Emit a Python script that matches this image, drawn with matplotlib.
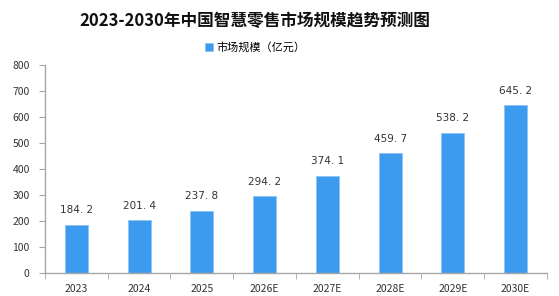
import matplotlib
matplotlib.use('Agg')
import matplotlib.pyplot as plt

plt.rcParams['font.family'] = ['Noto Sans CJK SC', 'DejaVu Sans']

years = ['2023', '2024', '2025', '2026E', '2027E', '2028E', '2029E', '2030E']
market_size = [184.2, 201.4, 237.8, 294.2, 374.1, 459.7, 538.2, 645.2]
yticks = [0, 100, 200, 300, 400, 500, 600, 700, 800]

title = '2023-2030年中国智慧零售市场规模趋势预测图'
legend_label = '市场规模（亿元）'

bar_color = '#3d9bef'
axis_color = '#a6a6a6'
text_color = '#333333'

fig = plt.figure(figsize=(5.59, 2.96), dpi=100)
ax = fig.add_axes([0.0805, 0.079, 0.898, 0.701])

x = list(range(len(years)))
bars = ax.bar(x, market_size, width=0.37, color=bar_color,
              edgecolor='#8cc4f5', linewidth=0.6, label=legend_label)

# value labels above each bar
for xi, v in zip(x, market_size):
    ax.annotate(f'{v:.1f}'.replace('.', '. '), xy=(xi, v), xytext=(0, 7),
                textcoords='offset points', ha='center', va='bottom',
                fontsize=7.5, color=text_color, family='DejaVu Sans')

ax.set_xlim(-0.5, len(years) - 0.5)
ax.set_ylim(0, 800)
ax.set_yticks(yticks)
ax.set_yticklabels([str(t) for t in yticks], fontsize=7.5, color=text_color)
ax.set_xticks(x)
ax.set_xticklabels(years, fontsize=7.5, color=text_color)
ax.tick_params(axis='x', length=0, pad=8)
ax.tick_params(axis='y', length=4, color=axis_color, pad=7)

# category separator ticks on the x axis
ax.set_xticks([i - 0.5 for i in range(len(years) + 1)], minor=True)
ax.tick_params(axis='x', which='minor', length=4, color=axis_color, direction='out')

for s in ['top', 'right']:
    ax.spines[s].set_visible(False)
for s in ['left', 'bottom']:
    ax.spines[s].set_color(axis_color)
    ax.spines[s].set_linewidth(1)

fig.text(0.456, 0.93, title, ha='center', va='center', fontsize=12,
         fontweight='bold', color='#111111')
fig.legend(handles=[bars], labels=[legend_label], loc='center',
           bbox_to_anchor=(0.456, 0.84), frameon=False, fontsize=8,
           handlelength=0.7, handleheight=0.7, handletextpad=0.3)

fig.savefig('out.png', dpi=100)
